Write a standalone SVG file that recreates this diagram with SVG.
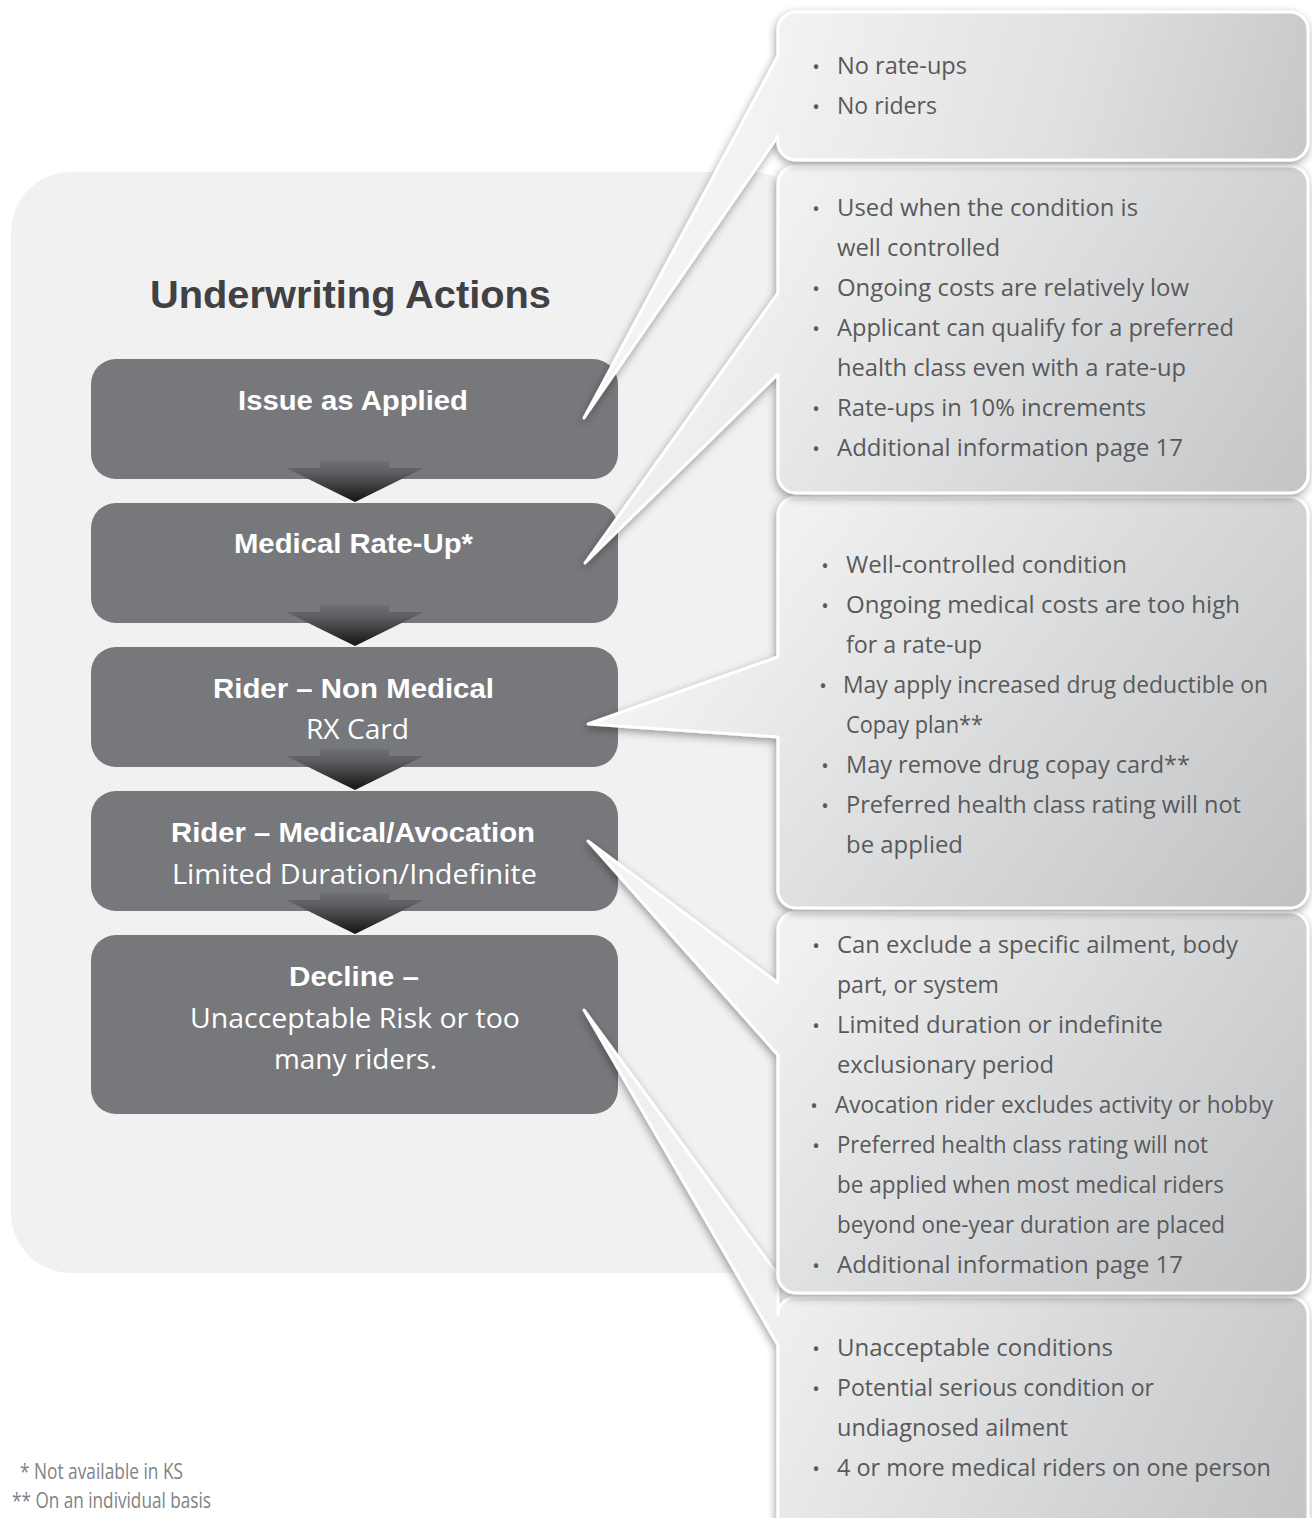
<svg xmlns="http://www.w3.org/2000/svg" width="1312" height="1518" viewBox="0 0 1312 1518">
<style>
.box{fill:#77787b}
.hb{font-family:"Liberation Sans",Arial,sans-serif;font-weight:bold;font-size:28px;fill:#ffffff;text-anchor:middle}
.hr{font-family:"Open Sans","Noto Sans",sans-serif;font-size:27px;fill:#ffffff;text-anchor:middle}
.co{stroke:#ffffff;stroke-width:3;stroke-linejoin:round;filter:url(#sh)}
.t{font-family:"Open Sans","Noto Sans",sans-serif;font-size:24px;fill:#58595b}
.b{font-family:"Open Sans","Noto Sans",sans-serif;font-size:20px;fill:#58595b;text-anchor:middle}
.fn{font-family:"Open Sans","Noto Sans",sans-serif;font-size:21px;fill:#808285}
.arr{fill:url(#ag)}
</style>
<defs>
<filter id="sh" x="-10%" y="-10%" width="120%" height="130%">
<feDropShadow dx="-1" dy="3" stdDeviation="4" flood-color="#000000" flood-opacity="0.38"/>
</filter>
<linearGradient id="ag" x1="0" y1="0" x2="0" y2="1">
<stop offset="0" stop-color="#6e6f72"/>
<stop offset="0.3" stop-color="#5c5d60"/>
<stop offset="1" stop-color="#141414"/>
</linearGradient>
<linearGradient id="g1" gradientUnits="userSpaceOnUse" x1="778" y1="12" x2="1308" y2="160">
<stop offset="0" stop-color="#f3f3f3"/><stop offset="0.55" stop-color="#e0e0e1"/><stop offset="1" stop-color="#c6c7c9"/>
</linearGradient>
<linearGradient id="g2" gradientUnits="userSpaceOnUse" x1="778" y1="166" x2="1308" y2="493">
<stop offset="0" stop-color="#f3f3f3"/><stop offset="0.55" stop-color="#d9dadb"/><stop offset="1" stop-color="#c3c4c6"/>
</linearGradient>
<linearGradient id="g3" gradientUnits="userSpaceOnUse" x1="778" y1="497" x2="1308" y2="908">
<stop offset="0" stop-color="#f3f3f3"/><stop offset="0.55" stop-color="#d6d7d8"/><stop offset="1" stop-color="#c0c1c3"/>
</linearGradient>
<linearGradient id="g4" gradientUnits="userSpaceOnUse" x1="778" y1="912" x2="1308" y2="1293">
<stop offset="0" stop-color="#f3f3f3"/><stop offset="0.55" stop-color="#d6d7d8"/><stop offset="1" stop-color="#c0c1c3"/>
</linearGradient>
<linearGradient id="g5" gradientUnits="userSpaceOnUse" x1="778" y1="1297" x2="1308" y2="1545">
<stop offset="0" stop-color="#f0f0f0"/><stop offset="0.55" stop-color="#d6d7d8"/><stop offset="1" stop-color="#c3c4c6"/>
</linearGradient>
</defs>

<rect id="panel" x="11" y="172" width="800" height="1101" rx="60" fill="#f1f1f1"/>

<g id="title">
<text x="350.5" y="308" textLength="401" lengthAdjust="spacingAndGlyphs" style="font-family:'Liberation Sans',Arial,sans-serif;font-weight:bold;font-size:39px;fill:#414042;text-anchor:middle">Underwriting Actions</text>
</g>

<g id="node-issue">
<rect class="box" x="91" y="359" width="527" height="120" rx="25"/>
<text class="hb" x="353" y="410" textLength="230" lengthAdjust="spacingAndGlyphs">Issue as Applied</text>
</g>
<g id="node-rateup">
<rect class="box" x="91" y="503" width="527" height="120" rx="25"/>
<text class="hb" x="353.5" y="553" textLength="239" lengthAdjust="spacingAndGlyphs">Medical Rate-Up*</text>
</g>
<g id="node-nonmedical">
<rect class="box" x="91" y="647" width="527" height="120" rx="25"/>
<text class="hb" x="353.5" y="698" textLength="281" lengthAdjust="spacingAndGlyphs">Rider – Non Medical</text>
<text class="hr" x="357.5" y="739" textLength="103" lengthAdjust="spacingAndGlyphs">RX Card</text>
</g>
<g id="node-medical">
<rect class="box" x="91" y="791" width="527" height="120" rx="25"/>
<text class="hb" x="353" y="842" textLength="364" lengthAdjust="spacingAndGlyphs">Rider – Medical/Avocation</text>
<text class="hr" x="354.5" y="884" textLength="365" lengthAdjust="spacingAndGlyphs">Limited Duration/Indefinite</text>
</g>
<g id="node-decline">
<rect class="box" x="91" y="935" width="527" height="179" rx="25"/>
<text class="hb" x="354" y="986" textLength="130" lengthAdjust="spacingAndGlyphs">Decline –</text>
<text class="hr" x="355" y="1028" textLength="330" lengthAdjust="spacingAndGlyphs">Unacceptable Risk or too</text>
<text class="hr" x="355.5" y="1069" textLength="163" lengthAdjust="spacingAndGlyphs">many riders.</text>
</g>

<g id="connectors">
<path class="arr" d="M320,461 H389 V468 H424 L355,502 L286,468 H320 Z"/>
<path class="arr" d="M320,605 H389 V612 H424 L355,646 L286,612 H320 Z"/>
<path class="arr" d="M320,749 H389 V756 H424 L355,790 L286,756 H320 Z"/>
<path class="arr" d="M320,893 H389 V900 H424 L355,934 L286,900 H320 Z"/>
</g>

<g id="callout-decline">
<path class="co" fill="url(#g5)" d="M796,1297 H1290 A18,18 0 0 1 1308,1315 V1527 A18,18 0 0 1 1290,1545 H796 A18,18 0 0 1 778,1527 V1345 L584,1010 L778,1275 V1315 A18,18 0 0 1 796,1297 Z"/>
<text class="b" x="816" y="1356">•</text><text class="t" x="837" y="1356" textLength="276" lengthAdjust="spacingAndGlyphs">Unacceptable conditions</text>
<text class="b" x="816" y="1396">•</text><text class="t" x="837" y="1396" textLength="317" lengthAdjust="spacingAndGlyphs">Potential serious condition or</text>
<text class="t" x="837" y="1436" textLength="231" lengthAdjust="spacingAndGlyphs">undiagnosed ailment</text>
<text class="b" x="816" y="1476">•</text><text class="t" x="837" y="1476" textLength="434" lengthAdjust="spacingAndGlyphs">4 or more medical riders on one person</text>
</g>

<g id="callout-medical">
<path class="co" fill="url(#g4)" d="M796,912 H1290 A18,18 0 0 1 1308,930 V1275 A18,18 0 0 1 1290,1293 H796 A18,18 0 0 1 778,1275 V1055 L588,841 L778,983 V930 A18,18 0 0 1 796,912 Z"/>
<text class="b" x="816" y="953">•</text><text class="t" x="837" y="953" textLength="401" lengthAdjust="spacingAndGlyphs">Can exclude a specific ailment, body</text>
<text class="t" x="837" y="993" textLength="162" lengthAdjust="spacingAndGlyphs">part, or system</text>
<text class="b" x="816" y="1033">•</text><text class="t" x="837" y="1033" textLength="326" lengthAdjust="spacingAndGlyphs">Limited duration or indefinite</text>
<text class="t" x="837" y="1073" textLength="217" lengthAdjust="spacingAndGlyphs">exclusionary period</text>
<text class="b" x="814" y="1113">•</text><text class="t" x="835" y="1113" textLength="438" lengthAdjust="spacingAndGlyphs">Avocation rider excludes activity or hobby</text>
<text class="b" x="816" y="1153">•</text><text class="t" x="837" y="1153" textLength="371" lengthAdjust="spacingAndGlyphs">Preferred health class rating will not</text>
<text class="t" x="837" y="1193" textLength="387" lengthAdjust="spacingAndGlyphs">be applied when most medical riders</text>
<text class="t" x="837" y="1233" textLength="388" lengthAdjust="spacingAndGlyphs">beyond one-year duration are placed</text>
<text class="b" x="816" y="1273">•</text><text class="t" x="837" y="1273" textLength="346" lengthAdjust="spacingAndGlyphs">Additional information page 17</text>
</g>

<g id="callout-nonmedical">
<path class="co" fill="url(#g3)" d="M796,497 H1290 A18,18 0 0 1 1308,515 V890 A18,18 0 0 1 1290,908 H796 A18,18 0 0 1 778,890 V737 L588,724 L778,657 V515 A18,18 0 0 1 796,497 Z"/>
<text class="b" x="825" y="573">•</text><text class="t" x="846" y="573" textLength="281" lengthAdjust="spacingAndGlyphs">Well-controlled condition</text>
<text class="b" x="825" y="613">•</text><text class="t" x="846" y="613" textLength="394" lengthAdjust="spacingAndGlyphs">Ongoing medical costs are too high</text>
<text class="t" x="846" y="653" textLength="136" lengthAdjust="spacingAndGlyphs">for a rate-up</text>
<text class="b" x="823" y="693">•</text><text class="t" x="843" y="693" textLength="425" lengthAdjust="spacingAndGlyphs">May apply increased drug deductible on</text>
<text class="t" x="846" y="733" textLength="137" lengthAdjust="spacingAndGlyphs">Copay plan**</text>
<text class="b" x="825" y="773">•</text><text class="t" x="846" y="773" textLength="344" lengthAdjust="spacingAndGlyphs">May remove drug copay card**</text>
<text class="b" x="825" y="813">•</text><text class="t" x="846" y="813" textLength="395" lengthAdjust="spacingAndGlyphs">Preferred health class rating will not</text>
<text class="t" x="846" y="853" textLength="117" lengthAdjust="spacingAndGlyphs">be applied</text>
</g>

<g id="callout-rateup">
<path class="co" fill="url(#g2)" d="M796,166 H1290 A18,18 0 0 1 1308,184 V475 A18,18 0 0 1 1290,493 H796 A18,18 0 0 1 778,475 V374 L585,563 L778,293 V184 A18,18 0 0 1 796,166 Z"/>
<text class="b" x="816" y="216">•</text><text class="t" x="837" y="216" textLength="301" lengthAdjust="spacingAndGlyphs">Used when the condition is</text>
<text class="t" x="837" y="256" textLength="163" lengthAdjust="spacingAndGlyphs">well controlled</text>
<text class="b" x="816" y="296">•</text><text class="t" x="837" y="296" textLength="352" lengthAdjust="spacingAndGlyphs">Ongoing costs are relatively low</text>
<text class="b" x="816" y="336">•</text><text class="t" x="837" y="336" textLength="397" lengthAdjust="spacingAndGlyphs">Applicant can qualify for a preferred</text>
<text class="t" x="837" y="376" textLength="349" lengthAdjust="spacingAndGlyphs">health class even with a rate-up</text>
<text class="b" x="816" y="416">•</text><text class="t" x="837" y="416" textLength="309" lengthAdjust="spacingAndGlyphs">Rate-ups in 10% increments</text>
<text class="b" x="816" y="456">•</text><text class="t" x="837" y="456" textLength="346" lengthAdjust="spacingAndGlyphs">Additional information page 17</text>
</g>

<g id="callout-issue">
<path class="co" fill="url(#g1)" d="M796,12 H1290 A18,18 0 0 1 1308,30 V142 A18,18 0 0 1 1290,160 H796 A18,18 0 0 1 778,142 V136 L584,418 L778,56 V30 A18,18 0 0 1 796,12 Z"/>
<text class="b" x="816" y="74">•</text><text class="t" x="837" y="74" textLength="130" lengthAdjust="spacingAndGlyphs">No rate-ups</text>
<text class="b" x="816" y="114">•</text><text class="t" x="837" y="114" textLength="100" lengthAdjust="spacingAndGlyphs">No riders</text>
</g>

<g id="footnotes">
<text class="fn" x="20" y="1479" textLength="163" lengthAdjust="spacingAndGlyphs">* Not available in KS</text>
<text class="fn" x="12" y="1508" textLength="199" lengthAdjust="spacingAndGlyphs">** On an individual basis</text>
</g>
</svg>
